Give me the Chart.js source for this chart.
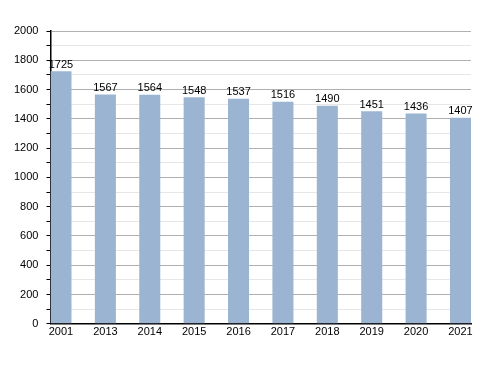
<!DOCTYPE html>
<html>
<head>
<meta charset="utf-8">
<script src="https://cdn.jsdelivr.net/npm/chart.js@4"></script>
<style>
  html, body { margin: 0; padding: 0; background: #fff; }
  #wrap { width: 500px; height: 373px; }
</style>
</head>
<body>
<div id="wrap"><canvas id="chart"></canvas></div>
<script>
const years = ["2001", "2013", "2014", "2015", "2016", "2017", "2018", "2019", "2020", "2021"];
const population = [1725, 1567, 1564, 1548, 1537, 1516, 1490, 1451, 1436, 1407];
const yMax = 2000;

// bars are placed on a linear x scale so that they sit flush with both plot edges
const points = population.map((v, i) => ({ x: i, y: v }));

const valueLabels = {
  id: "valueLabels",
  afterDatasetsDraw(chart) {
    const ctx = chart.ctx;
    const meta = chart.getDatasetMeta(0);
    ctx.save();
    ctx.font = "11px 'Liberation Sans', Arial, sans-serif";
    ctx.fillStyle = "#000";
    ctx.textAlign = "center";
    ctx.textBaseline = "bottom";
    meta.data.forEach((bar, i) => {
      ctx.fillText(String(population[i]), bar.x, bar.y - 1);
    });
    ctx.restore();
  }
};

new Chart(document.getElementById("chart"), {
  type: "bar",
  data: {
    datasets: [{
      data: points,
      backgroundColor: "#9bb4d1",
      borderWidth: 0,
      barPercentage: 1,
      categoryPercentage: 0.474
    }]
  },
  options: {
    responsive: true,
    maintainAspectRatio: false,
    animation: false,
    layout: { padding: { top: 31, right: 29, bottom: 32, left: 6 } },
    plugins: {
      legend: { display: false },
      tooltip: { enabled: false }
    },
    scales: {
      x: {
        type: "linear",
        min: -0.237,
        max: 9.237,
        offset: false,
        afterBuildTicks(scale) {
          scale.ticks = years.map((y, i) => ({ value: i }));
        },
        ticks: {
          autoSkip: false,
          maxRotation: 0,
          padding: 2,
          color: "#000",
          font: { family: "'Liberation Sans', Arial, sans-serif", size: 11 },
          callback: (v) => years[v]
        },
        grid: { display: false, drawTicks: false },
        border: { display: true, color: "#000", width: 1.5 }
      },
      y: {
        min: 0,
        max: yMax,
        ticks: {
          stepSize: 100,
          autoSkip: false,
          padding: 8,
          color: "#000",
          font: { family: "'Liberation Sans', Arial, sans-serif", size: 11 },
          callback: (v) => (v % 200 === 0 ? v : "")
        },
        grid: {
          color: (c) => (c.tick && c.tick.value % 200 === 0 ? "#b0b0b0" : "#e6e6e6"),
          tickColor: "#000",
          tickLength: 4,
          drawTicks: true
        },
        border: { display: true, color: "#000", width: 1.5 }
      }
    }
  },
  plugins: [valueLabels]
});
</script>
</body>
</html>
